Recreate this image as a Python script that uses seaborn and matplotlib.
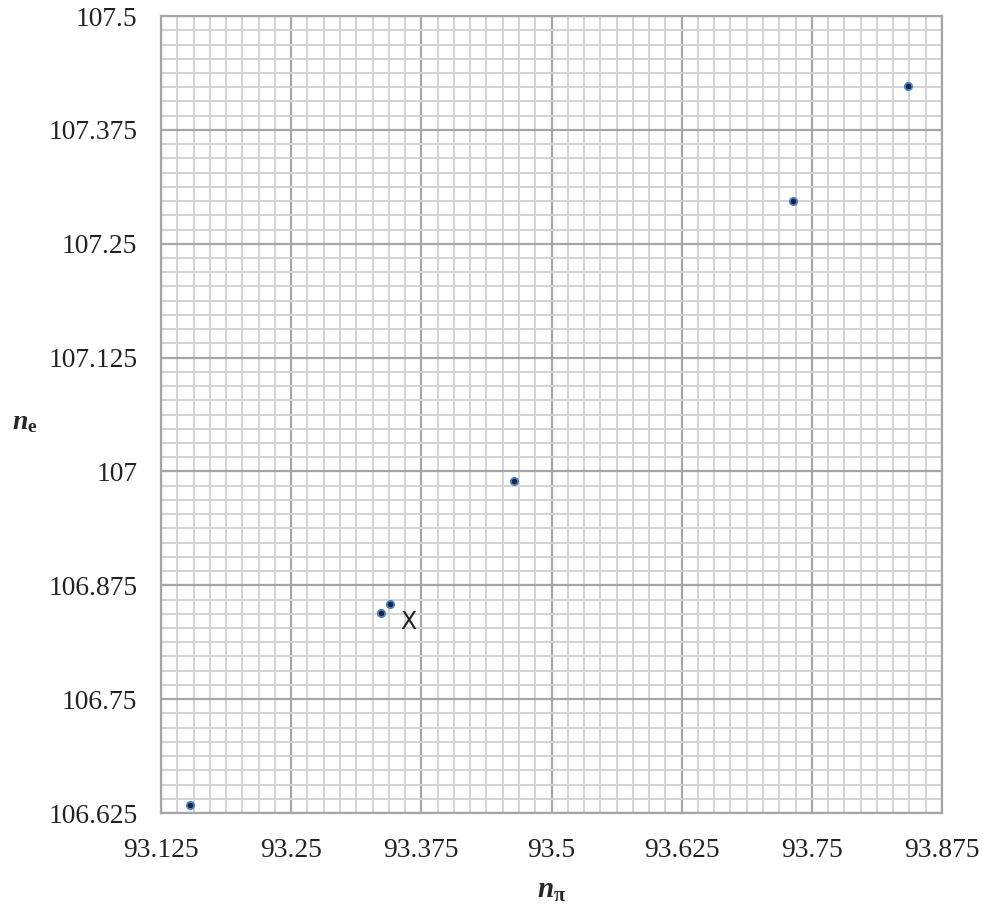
import numpy as np
import pandas as pd
import matplotlib
matplotlib.use("Agg")
import matplotlib.pyplot as plt
from matplotlib.ticker import MultipleLocator, FuncFormatter
import seaborn as sns

# points
n_pi = [93.1528, 93.3363, 93.3449, 93.4640, 93.7316, 93.8426]
n_e = [106.6338, 106.8443, 106.8541, 106.9898, 107.2966, 107.4235]
mark_x, mark_y, mark_txt = 93.3621, 106.8347, "X"

df = pd.DataFrame({"n_pi": n_pi, "n_e": n_e})

sns.set_style("white")
plt.rcParams["font.family"] = ["Liberation Serif", "DejaVu Serif"]
plt.rcParams["mathtext.fontset"] = "custom"
plt.rcParams["mathtext.it"] = "Liberation Serif:italic:bold"
plt.rcParams["mathtext.bf"] = "Liberation Serif:bold"
plt.rcParams["mathtext.rm"] = "Liberation Serif"

fig = plt.figure(figsize=(9.83, 9.07), dpi=100)
ax = fig.add_axes([0.1638, 0.1036, 0.7945, 0.8787])

sns.scatterplot(data=df, x="n_pi", y="n_e", ax=ax, s=28, color="#1a2340",
                edgecolor="#4a86c8", linewidth=1.3, zorder=5)

ax.text(mark_x, mark_y, mark_txt, ha="center", va="center", fontsize=17,
        family="DejaVu Sans", color="#222222", zorder=6)

ax.set_xlim(93.125, 93.875)
ax.set_ylim(106.625, 107.5)
ax.xaxis.set_major_locator(MultipleLocator(0.125))
ax.yaxis.set_major_locator(MultipleLocator(0.125))
ax.xaxis.set_minor_locator(MultipleLocator(0.125 / 8))
ax.yaxis.set_minor_locator(MultipleLocator(0.125 / 8))
fmt = FuncFormatter(lambda v, p: "%g" % round(v, 3))
ax.xaxis.set_major_formatter(fmt)
ax.yaxis.set_major_formatter(fmt)

ax.grid(which="minor", color="#d4d4d4", linewidth=1.4, zorder=0)
ax.grid(which="major", color="#a6a6a6", linewidth=1.6, zorder=1)
ax.set_axisbelow(True)
for s in ax.spines.values():
    s.set_color("#a6a6a6")
    s.set_linewidth(1.6)

ax.tick_params(which="major", direction="out", length=8, width=1.6,
               color="#a6a6a6", labelsize=19.8, labelcolor="#222222")
ax.tick_params(which="minor", length=0)
ax.tick_params(axis="x", pad=10)
ax.tick_params(axis="y", pad=9)

ax.set_xlabel(r"$n_{\mathbf{\pi}}$", fontsize=21)
ax.xaxis.set_label_coords(0.5, -0.082)
ax.set_ylabel(r"$n_{\mathbf{e}}$", fontsize=20, rotation=0, va="center", ha="center")
ax.yaxis.set_label_coords(-0.174, 0.49)

fig.savefig("out.png", dpi=100)
